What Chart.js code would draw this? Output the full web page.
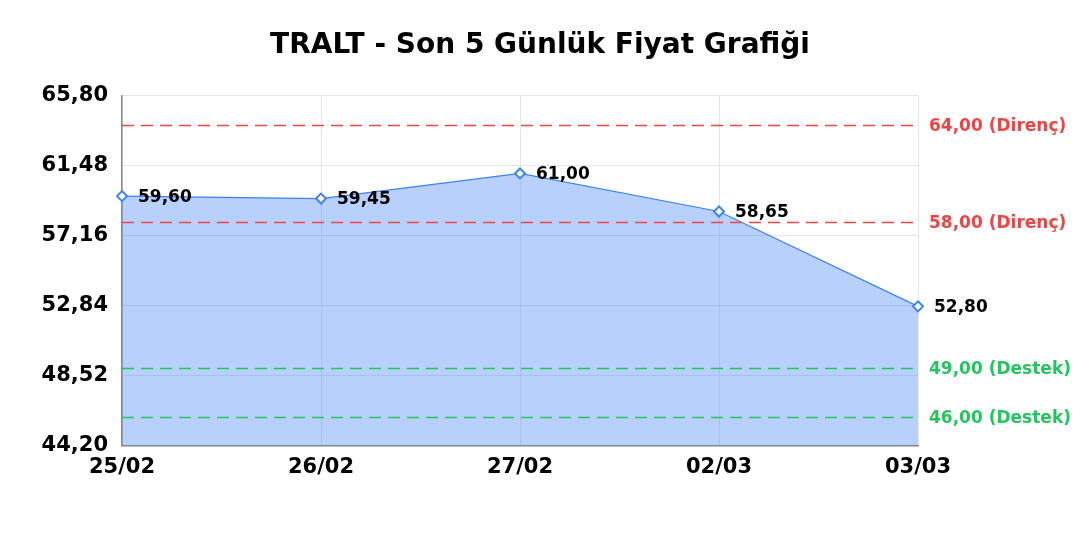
<!DOCTYPE html>
<html lang="tr">
<head>
  <meta charset="UTF-8">
  <title>TRALT - Son 5 Günlük Fiyat Grafiği</title>
  <style>
    html, body { margin: 0; padding: 0; background: #fff; }
    #wrap { width: 1080px; height: 540px; }
  </style>
</head>
<body>
  <div id="wrap"><canvas id="priceChart"></canvas></div>

  <script src="https://cdn.jsdelivr.net/npm/chart.js"></script>
  <script>
    // Data
    const days = ['25/02', '26/02', '27/02', '02/03', '03/03'];
    const prices = [59.60, 59.45, 61.00, 58.65, 52.80];
    const yTicks = [44.20, 48.52, 52.84, 57.16, 61.48, 65.80];
    const resistance = [64.00, 58.00];
    const support = [49.00, 46.00];

    const fmt = (v) => v.toFixed(2).replace('.', ',');
    const FONT = '"DejaVu Sans", sans-serif';

    // Draws dashed support / resistance lines and the value labels
    const levelsPlugin = {
      id: 'levels',
      afterDatasetsDraw(chart) {
        const { ctx, chartArea, scales } = chart;
        const y = scales.y;
        const levels = resistance.map(v => ({ v, c: '#ef4444', t: ' (Direnç)' }))
          .concat(support.map(v => ({ v, c: '#22c55e', t: ' (Destek)' })));

        ctx.save();
        levels.forEach(l => {
          const py = Math.round(y.getPixelForValue(l.v)) + 0.5;
          ctx.strokeStyle = l.c;
          ctx.lineWidth = 1.5;
          ctx.setLineDash([12, 7]);
          ctx.beginPath();
          ctx.moveTo(chartArea.left, py);
          ctx.lineTo(chartArea.right, py);
          ctx.stroke();

          ctx.setLineDash([]);
          ctx.fillStyle = l.c;
          ctx.font = 'bold 17px ' + FONT;
          ctx.textAlign = 'left';
          ctx.textBaseline = 'middle';
          ctx.fillText(fmt(l.v) + l.t, chartArea.right + 11, py + 1);
        });

        // point value labels
        const meta = chart.getDatasetMeta(0);
        ctx.fillStyle = '#000';
        ctx.font = 'bold 17px ' + FONT;
        ctx.textAlign = 'left';
        ctx.textBaseline = 'middle';
        meta.data.forEach((pt, i) => {
          ctx.fillText(fmt(prices[i]), pt.x + 16, pt.y + 1);
        });
        ctx.restore();
      }
    };

    new Chart(document.getElementById('priceChart').getContext('2d'), {
      type: 'line',
      data: {
        labels: days,
        datasets: [{
          label: 'TRALT',
          data: prices,
          borderColor: '#3b82f6',
          borderWidth: 1.2,
          backgroundColor: 'rgba(59, 130, 246, 0.37)',
          fill: 'start',
          tension: 0,
          pointStyle: 'rectRot',
          pointRadius: 5,
          pointBorderWidth: 2,
          pointBackgroundColor: '#fff',
          pointBorderColor: '#3b82f6'
        }]
      },
      options: {
        responsive: true,
        maintainAspectRatio: false,
        animation: false,
        layout: { padding: { left: 0, right: 0, top: 0, bottom: 51 } },
        plugins: {
          legend: { display: false },
          tooltip: { enabled: false },
          title: {
            display: true,
            text: 'TRALT - Son 5 Günlük Fiyat Grafiği',
            color: '#000',
            font: { family: FONT, size: 28, weight: 'bold' },
            padding: { top: 29, bottom: 33 }
          }
        },
        scales: {
          x: {
            offset: false,
            grid: { color: '#e6e6e6', drawTicks: false },
            border: { color: '#888', width: 1.5 },
            ticks: {
              color: '#000',
              padding: 9,
              maxRotation: 0,
              font: { family: FONT, size: 21, weight: 'bold' }
            }
          },
          y: {
            min: yTicks[0],
            max: yTicks[yTicks.length - 1],
            afterBuildTicks: (axis) => { axis.ticks = yTicks.map(v => ({ value: v })); },
            afterFit: (axis) => { axis.width = 122; },
            grid: { color: '#e6e6e6', drawTicks: false },
            border: { color: '#888', width: 1.5 },
            ticks: {
              color: '#000',
              padding: 14,
              font: { family: FONT, size: 21, weight: 'bold' },
              callback: (v) => fmt(v)
            }
          },
          // empty right-hand axis: room for the level labels
          yRight: {
            position: 'right',
            min: yTicks[0],
            max: yTicks[yTicks.length - 1],
            afterFit: (axis) => { axis.width = 162; },
            grid: { display: false, drawTicks: false },
            border: { display: false },
            ticks: { display: false }
          }
        }
      },
      plugins: [levelsPlugin]
    });
  </script>
</body>
</html>
